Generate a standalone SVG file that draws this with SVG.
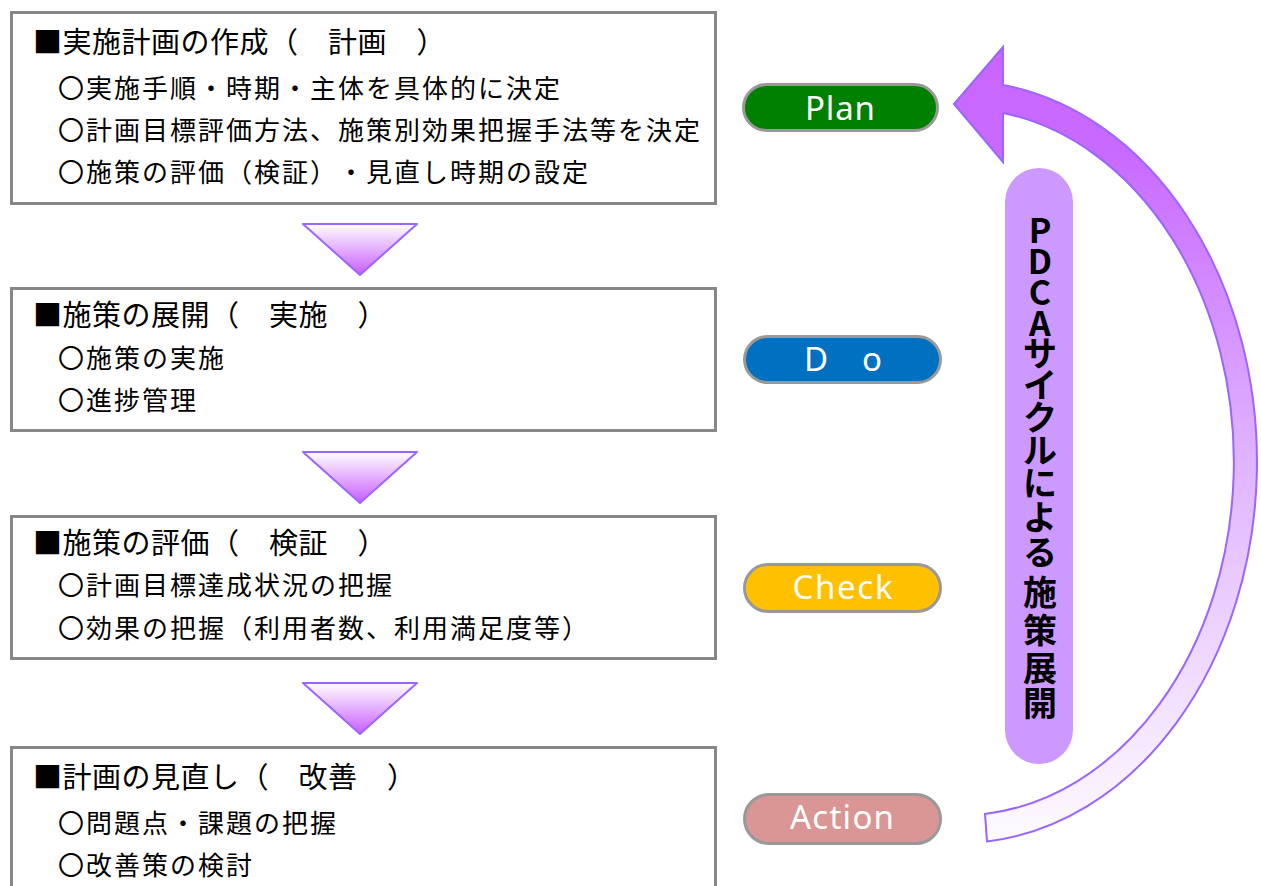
<svg xmlns="http://www.w3.org/2000/svg" width="1261" height="886" viewBox="0 0 1261 886">
<defs>
<style>
text{text-spacing-trim:space-all}
.box{fill:#ffffff;stroke:#878787;stroke-width:3}
.ttl{font-family:"Noto Sans CJK JP","Noto Sans CJK SC",sans-serif;font-size:29px;letter-spacing:0.5px;fill:#000}
.sub{font-family:"Noto Sans CJK JP","Noto Sans CJK SC",sans-serif;font-size:26px;letter-spacing:2px;fill:#000}
.pill{stroke:#999999;stroke-width:3}
.pl{font-family:"Noto Sans","DejaVu Sans",sans-serif;font-size:33px;fill:#ffffff;text-anchor:middle}
.tri{fill:url(#triG);stroke:#9966ff;stroke-width:2;stroke-linejoin:round}
.vt{font-family:"Noto Sans CJK JP","Noto Sans CJK SC",sans-serif;font-size:34px;font-weight:bold;fill:#000;text-anchor:middle}
</style>
<linearGradient id="triG" x1="0" y1="0" x2="0" y2="1">
<stop offset="0" stop-color="#ffffff"/>
<stop offset="1" stop-color="#c95cff"/>
</linearGradient>
<linearGradient id="arcG" gradientUnits="userSpaceOnUse" x1="0" y1="60" x2="0" y2="845">
<stop offset="0" stop-color="#c966ff"/>
<stop offset="0.12" stop-color="#c96aff"/>
<stop offset="0.5" stop-color="#dfb2ff"/>
<stop offset="1" stop-color="#fefcff"/>
</linearGradient>
</defs>
<rect width="1261" height="886" fill="#ffffff"/>

<g id="node-plan-box">
<rect class="box" x="11.5" y="12.5" width="704" height="191"/>
<text class="ttl" x="33" y="53">■実施計画の作成（　計画　）</text>
<text class="sub" x="58" y="98">〇実施手順・時期・主体を具体的に決定</text>
<text class="sub" x="58" y="140">〇計画目標評価方法、施策別効果把握手法等を決定</text>
<text class="sub" x="58" y="182">〇施策の評価（検証）・見直し時期の設定</text>
</g>

<g id="node-do-box">
<rect class="box" x="11.5" y="288.5" width="704" height="142"/>
<text class="ttl" x="33" y="326">■施策の展開（　実施　）</text>
<text class="sub" x="58" y="368">〇施策の実施</text>
<text class="sub" x="58" y="410">〇進捗管理</text>
</g>

<g id="node-check-box">
<rect class="box" x="11.5" y="516.5" width="704" height="142"/>
<text class="ttl" x="33" y="554">■施策の評価（　検証　）</text>
<text class="sub" x="58" y="595">〇計画目標達成状況の把握</text>
<text class="sub" x="58" y="638">〇効果の把握（利用者数、利用満足度等）</text>
</g>

<g id="node-action-box">
<rect class="box" x="11.5" y="747.5" width="704" height="160"/>
<text class="ttl" x="33" y="788">■計画の見直し（　改善　）</text>
<text class="sub" x="58" y="833">〇問題点・課題の把握</text>
<text class="sub" x="58" y="875">〇改善策の検討</text>
</g>

<g id="node-plan">
<rect class="pill" x="743.5" y="84.5" width="194" height="46" rx="23" fill="#008000"/>
<text class="pl" x="840" y="120" textLength="70">Plan</text>
</g>
<g id="node-do">
<rect class="pill" x="744.5" y="336.5" width="196" height="46" rx="23" fill="#0070c0"/>
<text class="pl" y="371"><tspan x="816">D</tspan><tspan x="872">o</tspan></text>
</g>
<g id="node-check">
<rect class="pill" x="744.5" y="564.5" width="196" height="47" rx="23.5" fill="#ffc000"/>
<text class="pl" x="842.5" y="599" textLength="100">Check</text>
</g>
<g id="node-action">
<rect class="pill" x="744.5" y="794.5" width="196" height="49" rx="24.5" fill="#d99694"/>
<text class="pl" x="842" y="829" textLength="104">Action</text>
</g>

<g id="node-pdca-label">
<rect x="1005" y="168" width="68" height="596" rx="34" fill="#cc99ff"/>
<text class="vt" x="1040 1040 1040 1040 1040 1040 1040 1040 1040 1040 1040 1040 1040 1040 1040" y="243 274 305 336 366 398 430 463 496 530 565 605 643 681 716">PDCAサイクルによる施策展開</text>
</g>

<g id="connectors">
<polygon class="tri" points="303,224 417,224 360,275"/>
<polygon class="tri" points="303,452 417,452 360,503"/>
<polygon class="tri" points="303,683 417,683 360,734"/>
<path d="M 1003 113 L 1003 162 L 954 104 L 1003 47 L 1003 85 A 297 381 0 0 1 987 841.4 L 985 813.9 A 274 353.4 0 0 0 1003 113 Z" fill="url(#arcG)" stroke="#9966ff" stroke-width="2" stroke-linejoin="miter"/>
</g>
</svg>
